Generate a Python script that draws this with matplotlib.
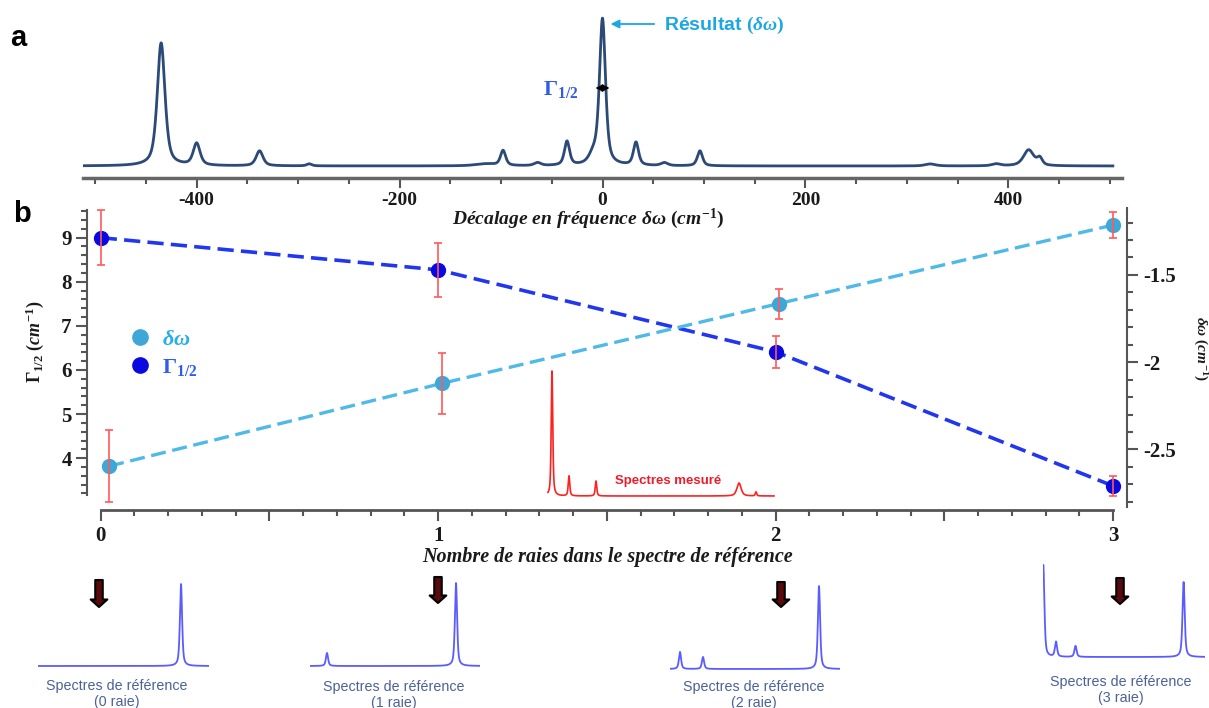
import matplotlib.pyplot as plt
from matplotlib.lines import Line2D
import numpy as np

plt.rcParams['axes.unicode_minus'] = False
plt.rcParams['mathtext.fontset'] = 'custom'
plt.rcParams['mathtext.rm'] = 'Liberation Serif:bold'
plt.rcParams['mathtext.it'] = 'Liberation Serif:italic:bold'
plt.rcParams['mathtext.bf'] = 'Liberation Serif:bold'
plt.rcParams['font.family'] = ['Liberation Sans', 'DejaVu Sans']

a_pos = [-435, -400, -338, -289, -115, -98, -64, -35, -9, 0, 33, 61, 96, 323, 388, 420, 431]
a_h = [123, 22, 15, 2, 2, 15, 3, 24, 9, 146, 23, 3, 15, 2, 2, 16, 7]
a_w = [4.5, 4, 4, 3, 12, 3, 4, 3, 5, 3.5, 3, 4, 3, 6, 5, 6, 3]

# ---- panel b : fit results ----
n_raies = [0, 1, 2, 3]
gamma = [9.0, 8.27, 6.41, 3.37]
gamma_err = [0.63, 0.62, 0.37, 0.23]
dw_x = [0.025, 1.01, 2.01, 3.0]
dw = [-2.596, -2.122, -1.664, -1.214]
dw_err = [0.205, 0.175, 0.086, 0.075]

# measured spectrum inset (arbitrary units)
meas_pos = [4, 21, 48, 191, 208]
meas_h = [125, 20, 15, 13, 4]
meas_w = [0.9, 0.9, 0.9, 2.5, 0.8]

# reference spectra (arbitrary units)
ref_pos = [[143], [17, 146], [10, 33, 149], [0.3, 13, 32.5, 140.6]]
ref_h = [[82], [13, 83], [17, 12, 83], [92, 15, 11, 75]]
ref_names = ['(0 raie)', '(1 raie)', '(2 raie)', '(3 raie)']

W, H = 1209, 708


def fx(px):
    return px / W


def fy(py):
    return 1 - py / H


def peaks(x, pos, h, w):
    y = np.zeros_like(x)
    for p, a, g in zip(pos, h, w):
        u = (x - p) / g
        y += a * (0.6 / (1 + u ** 2) + 0.4 * np.exp(-np.log(2) * u ** 2))
    return y


serif_bold = dict(fontfamily='Liberation Serif', fontweight='bold')
tick_col = '#1a1a1a'
spine_col = '#555555'

fig = plt.figure(figsize=(12.09, 7.08), dpi=100)

# ---------------- panel a ----------------
ax_a = fig.add_axes([fx(83), fy(178), fx(1122) - fx(83), fy(14) - fy(178)])
xs = np.linspace(-512, 503, 5000)
ax_a.plot(xs, peaks(xs, a_pos, a_h, a_w), color='#2c4a78', lw=2)
ax_a.set_xlim(-512, 512)
ax_a.set_ylim(-12, 152)
for s in ['left', 'right', 'top']:
    ax_a.spines[s].set_visible(False)
ax_a.spines['bottom'].set_color('#666666')
ax_a.spines['bottom'].set_linewidth(2.5)
ax_a.set_yticks([])
ax_a.set_xticks([-400, -200, 0, 200, 400])
ax_a.set_xticks(np.arange(-500, 501, 50), minor=True)
ax_a.set_xticklabels(['-400', '-200', '0', '200', '400'], fontsize=14, color=tick_col, **serif_bold)
ax_a.tick_params(axis='x', which='major', length=7, width=1.5, color=spine_col, pad=3)
ax_a.tick_params(axis='x', which='minor', length=4, width=1.5, color=spine_col)

ax_a.annotate('', xy=(8, 142), xytext=(51, 142),
              arrowprops=dict(arrowstyle='-|>,head_length=0.5,head_width=0.25', color='#1aa7e3', lw=1.3,
                              shrinkA=0, shrinkB=0))
ax_a.text(61, 141, r'Résultat $(\delta\omega)$', color='#1aa7e3', fontsize=14, fontweight='bold',
          ha='left', va='center')
ax_a.annotate('', xy=(-7, 78), xytext=(7, 78),
              arrowprops=dict(arrowstyle='<|-|>,head_length=0.4,head_width=0.2', color='black', lw=1.2,
                              shrinkA=0, shrinkB=0))
ax_a.text(-41, 76, r'$\mathbf{\Gamma_{1/2}}$', color='#2e5ce6', fontsize=16, ha='center', va='center')

fig.text(fx(588), fy(219), r'Décalage en fréquence $\delta\omega\ (cm^{-1})$', ha='center', va='center',
         fontsize=14, fontstyle='italic', color=tick_col, **serif_bold)
fig.text(fx(18), fy(38), 'a', fontsize=21, fontweight='bold', ha='center', va='center')
fig.text(fx(22), fy(214), 'b', fontsize=21, fontweight='bold', ha='center', va='center')

# ---------------- panel b ----------------
ax = fig.add_axes([fx(87), fy(507), fx(1127) - fx(87), fy(208) - fy(507)])
ax.set_xlim(-0.0406, 3.041)
ax.set_ylim(2.893, 9.673)
ax2 = ax.twinx()
ax2.set_ylim(-2.830, -1.1165)

ax.plot(n_raies, gamma, ls=(0, (4.5, 2)), color='#2136f0', lw=2.6, zorder=2)
ax.plot(n_raies, gamma, ls='none', marker='o', ms=10, mfc='#0a0ae0', mec='#0a0ae0', zorder=3)
ax.errorbar(n_raies, gamma, yerr=gamma_err, fmt='none', ecolor='#ff5a5a', elinewidth=1.2, capsize=3,
            capthick=1.2, zorder=4)

ax2.plot(dw_x, dw, ls=(0, (4.5, 2)), color='#4fb9e8', lw=2.4, zorder=2)
ax2.plot(dw_x, dw, ls='none', marker='o', ms=10, mfc='#3ea7d8', mec='#3ea7d8', zorder=3)
ax2.errorbar(dw_x, dw, yerr=dw_err, fmt='none', ecolor='#ff5a5a', elinewidth=1.2, capsize=3,
             capthick=1.2, zorder=4)

for s in ['top', 'right']:
    ax.spines[s].set_visible(False)
for s in ['top', 'left', 'bottom']:
    ax2.spines[s].set_visible(False)
ax.spines['bottom'].set_position(('outward', 2))
ax.spines['bottom'].set_bounds(0, 3)
ax.spines['bottom'].set_linewidth(2)
ax.spines['bottom'].set_color(spine_col)
ax.spines['left'].set_bounds(3.17, 9.63)
ax.spines['left'].set_linewidth(1.5)
ax.spines['left'].set_color(spine_col)
ax2.spines['right'].set_linewidth(1.5)
ax2.spines['right'].set_color(spine_col)

ax.set_xticks([0, 0.5, 1, 1.5, 2, 2.5, 3])
ax.set_xticklabels(['0', '', '1', '', '2', '', '3'], fontsize=15, color=tick_col, **serif_bold)
ax.set_xticks(np.arange(0, 3.01, 0.1), minor=True)
ax.tick_params(axis='x', which='major', length=8, width=1.5, color=spine_col, pad=4)
ax.tick_params(axis='x', which='minor', length=4, width=1.5, color=spine_col)

ax.set_yticks([4, 5, 6, 7, 8, 9])
ax.set_yticklabels(['4', '5', '6', '7', '8', '9'], fontsize=15, color=tick_col, **serif_bold)
ax.set_yticks(np.arange(3.2, 9.61, 0.2), minor=True)
ax.tick_params(axis='y', which='major', length=8, width=1.5, color=spine_col, pad=3)
ax.tick_params(axis='y', which='minor', length=4, width=1.5, color=spine_col)

ax2.set_yticks([-2.5, -2, -1.5])
ax2.set_yticklabels(['-2.5', '-2', '-1.5'], fontsize=15, color=tick_col, **serif_bold)
ax2.set_yticks(np.arange(-2.8, -1.19, 0.1), minor=True)
ax2.tick_params(axis='y', which='major', length=8, width=1.5, color=spine_col, pad=4)
ax2.tick_params(axis='y', which='minor', length=4, width=1.5, color=spine_col)

fig.text(fx(35), fy(342), r'$\Gamma_{1/2}\ (cm^{-1})$', rotation=90, ha='center', va='center',
         fontsize=13, color=tick_col)
fig.text(fx(1200), fy(349), r'$\delta\omega\ (cm^{-1})$', rotation=270, ha='center', va='center',
         fontsize=11, color=tick_col)
fig.text(fx(607), fy(557), 'Nombre de raies dans le spectre de référence', ha='center', va='center',
         fontsize=14.5, fontstyle='italic', color=tick_col, **serif_bold)

handles = [Line2D([], [], ls='none', marker='o', ms=11, mfc='#3ea7d8', mec='#3ea7d8'),
           Line2D([], [], ls='none', marker='o', ms=11, mfc='#0a0ae0', mec='#0a0ae0')]
leg = ax2.legend(handles, [r'$\delta\omega$', r'$\Gamma_{1/2}$'], loc='upper left',
                 bbox_to_anchor=(fx(129), fy(329)), bbox_transform=fig.transFigure, frameon=False,
                 fontsize=16, handlelength=1, handletextpad=0.5, borderpad=0, borderaxespad=0,
                 labelspacing=0.3)
for t, c in zip(leg.get_texts(), ['#26aee6', '#2d5cf2']):
    t.set_color(c)

# measured spectrum inset
ax_m = fig.add_axes([fx(546), fy(500), fx(776) - fx(546), fy(367) - fy(500)])
xm = np.linspace(0, 226, 3000)
ax_m.plot(xm, peaks(xm, meas_pos, meas_h, meas_w), color='#ff2020', lw=1.2)
ax_m.set_xlim(-2, 228)
ax_m.set_ylim(-4, 129)
ax_m.axis('off')
fig.text(fx(668), fy(481), 'Spectres mesuré', color='#ee1c2b', fontsize=9.5, fontweight='bold',
         ha='center', va='center')

# ---------------- reference spectra ----------------
ref_x0 = [38, 310, 670, 1043]
ref_width = [171, 170, 170, 162]
ref_base = [666, 666, 669, 657]
label_x = [117, 394, 754, 1121]
label_y = [694, 695, 695, 690]
arrow_x = [99, 438, 781, 1120]
arrow_top = [580, 577, 582, 578]
arrow_bot = [607, 603, 607, 604]

for i in range(4):
    axr = fig.add_axes([fx(ref_x0[i]), fy(ref_base[i] + 4), ref_width[i] / W, 104 / H])
    xr = np.linspace(0, ref_width[i], 2000)
    axr.plot(xr, peaks(xr, ref_pos[i], ref_h[i], [1.3] * len(ref_pos[i])), color='#5a5cff', lw=1.3)
    axr.set_xlim(0, ref_width[i])
    axr.set_ylim(-4, 100)
    axr.axis('off')
    fig.text(fx(label_x[i]), fy(label_y[i]), 'Spectres de référence\n' + ref_names[i], color='#4a6299',
             fontsize=10.3, ha='center', va='center', linespacing=1.15)
    ax.annotate('', xy=(fx(arrow_x[i]), fy(arrow_bot[i])), xytext=(fx(arrow_x[i]), fy(arrow_top[i])),
                xycoords='figure fraction', textcoords='figure fraction', annotation_clip=False,
                arrowprops=dict(arrowstyle='simple,head_length=0.45,head_width=1.0,tail_width=0.45',
                                fc='#5a0a0a', ec='black', lw=1.5, mutation_scale=12, shrinkA=0, shrinkB=0))

fig.savefig('out.png', dpi=100)
